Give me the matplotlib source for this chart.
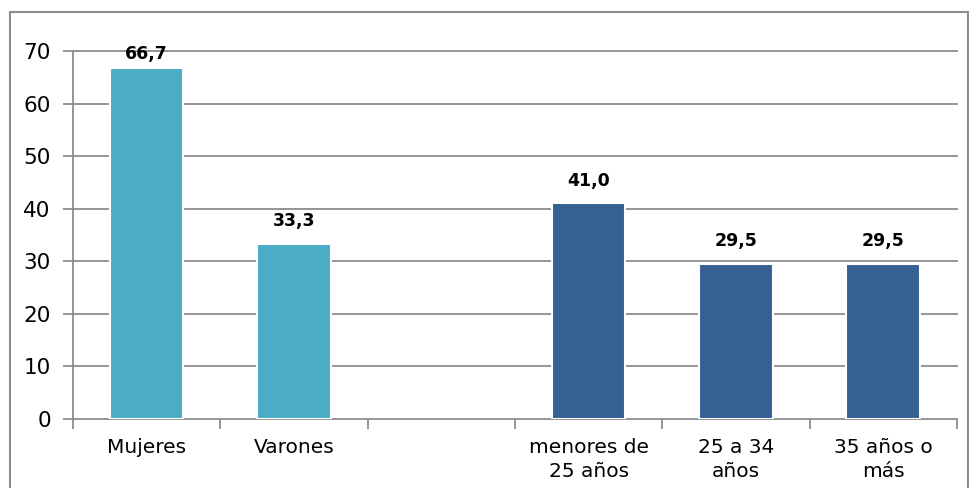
import numpy as np
import matplotlib.pyplot as plt
from matplotlib.patches import Rectangle

plt.rcParams['font.family'] = ['DejaVu Sans']

# categorias (la tercera es un hueco entre sexo y edad)
categorias = ["Mujeres", "Varones", "", "menores de\n25 años", "25 a 34\naños", "35 años o\nmás"]
valores = [66.7, 33.3, np.nan, 41.0, 29.5, 29.5]
colores = ["#4BACC6", "#4BACC6", "#FFFFFF", "#366092", "#366092", "#366092"]
yticks = [0, 10, 20, 30, 40, 50, 60, 70]

fig = plt.figure(figsize=(9.7, 4.88), dpi=100)
ax = fig.add_axes([73 / 970, 1 - 419 / 488, (957 - 73) / 970, (419 - 51) / 488])

x = np.arange(len(categorias))
grid_c = "#8C8C8C"
for t in yticks:
    ax.axhline(t, color=grid_c, lw=1.3, zorder=1, clip_on=False)

hay = ~np.isnan(valores)
ax.bar(x[hay], np.array(valores)[hay], width=0.5, color=np.array(colores)[hay],
       edgecolor="white", linewidth=1.5, zorder=3)

# etiquetas de valor; la mas alta se queda dentro del area
for xi, v in zip(x, valores):
    if np.isnan(v):
        continue
    ax.text(xi, min(v + 4.3, 69.4), f"{v:.1f}".replace(".", ","), ha="center", va="center",
            fontsize=12.5, fontweight="bold", color="black", zorder=4)

ax.set_xlim(-0.5, len(categorias) - 0.5)
ax.set_ylim(0, 70)
ax.set_yticks(yticks)
ax.set_yticklabels([str(t) for t in yticks], fontsize=15.5)
ax.set_xticks(x)
ax.set_xticklabels(categorias, fontsize=14.5, linespacing=1.3)
ax.set_xticks(np.arange(len(categorias) + 1) - 0.5, minor=True)
ax.tick_params(axis="x", which="major", length=0, pad=14)
ax.tick_params(axis="x", which="minor", length=7, color=grid_c, width=1.3, direction="out")
ax.tick_params(axis="y", length=7, color=grid_c, width=1.3, pad=9)

for s in ["top", "right", "bottom"]:
    ax.spines[s].set_visible(False)
ax.spines["left"].set_color(grid_c)
ax.spines["left"].set_linewidth(1.3)

# marco del grafico
fig.patches.append(Rectangle((10 / 970, -0.05), 958 / 970, 1 - 12 / 488 + 0.05,
                             transform=fig.transFigure, fill=False,
                             edgecolor="#8C8C8C", lw=1.5))

fig.savefig("out.png", dpi=100)
